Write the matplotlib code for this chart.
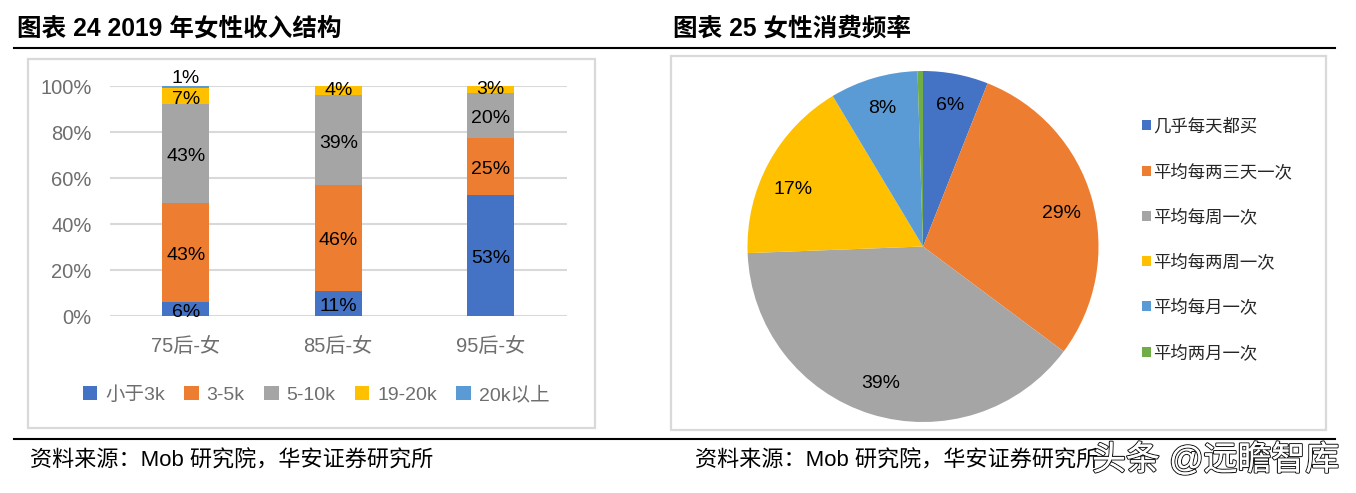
import matplotlib
matplotlib.use('Agg')
import matplotlib.pyplot as plt
import matplotlib.patheffects as pe
from matplotlib.patches import Rectangle
import numpy as np

W, H = 1356, 493
LATIN_CJK = ['Liberation Sans', 'Noto Sans CJK SC']

# income structure, one list per band
cohorts = ['75后-女', '85后-女', '95后-女']
income_bands = ['小于3k', '3-5k', '5-10k', '19-20k', '20k以上']
under_3k = [6, 11, 53]
from_3_to_5k = [43, 46, 25]
from_5_to_10k = [43, 39, 20]
from_19_to_20k = [7, 4, 3]
over_20k = [1, 0, 0]
band_colors = ['#4472C4', '#ED7D31', '#A5A5A5', '#FFC000', '#5B9BD5']
y_ticks = [0, 20, 40, 60, 80, 100]

# shopping frequency
freq_names = ['几乎每天都买', '平均每两三天一次', '平均每周一次', '平均每两周一次', '平均每月一次', '平均两月一次']
freq_values = [6.0, 29.2, 39.2, 17.0, 8.1, 0.5]
freq_labels = ['6%', '29%', '39%', '17%', '8%', '']
freq_colors = ['#4472C4', '#ED7D31', '#A5A5A5', '#FFC000', '#5B9BD5', '#70AD47']

plt.rcParams['font.family'] = LATIN_CJK
fig = plt.figure(figsize=(W / 100, H / 100), dpi=100)


def px_axes(x0, y0, x1, y1):
    # axes from pixel box, y counted from the top
    a = fig.add_axes([x0 / W, 1 - y1 / H, (x1 - x0) / W, (y1 - y0) / H])
    a.set_zorder(3)
    a.patch.set_visible(False)
    return a


def fig_text(x, y, s, **kw):
    return fig.text(x / W, 1 - y / H, s, va='center', **kw)


# chart frames
for x0, y0, x1, y1 in [(28, 59, 595, 428), (671, 56, 1326, 430)]:
    fig.add_artist(Rectangle((x0 / W, 1 - y1 / H), (x1 - x0) / W, (y1 - y0) / H,
                             transform=fig.transFigure, fc='white', ec='#D9D9D9', lw=1.6))

# heading and footer rules
for y in [48, 438.5]:
    fig.add_artist(plt.Line2D([14 / W, 1335 / W], [1 - y / H] * 2, color='black', lw=1.5))

fig_text(17, 29, '图表 24 2019 年女性收入结构', fontsize=17.7, fontweight='bold')
fig_text(673, 29, '图表 25 女性消费频率', fontsize=17.7, fontweight='bold')
fig_text(30, 461, '资料来源：Mob 研究院，华安证券研究所', fontsize=15.9)
fig_text(695, 461, '资料来源：Mob 研究院，华安证券研究所', fontsize=15.9)

# stacked bars
ax = px_axes(109.5, 86, 567, 316)
x = np.arange(len(cohorts))
series = np.array([under_3k, from_3_to_5k, from_5_to_10k, from_19_to_20k, over_20k], dtype=float)
shares = series / series.sum(axis=0) * 100
bottom = np.zeros(len(cohorts))
for i, band in enumerate(income_bands):
    ax.bar(x, shares[i], 0.31, bottom=bottom, color=band_colors[i], label=band, zorder=3)
    for j in range(len(cohorts)):
        if series[i, j] > 0:
            # the 1% label sits above the bar, thin segments stay near their middle
            offset = 9 if series[i, j] == 1 else (0 if series[i, j] < 5 else -3)
            ax.annotate('%d%%' % series[i, j], (x[j], bottom[j] + shares[i, j] / 2),
                        xytext=(0, offset), textcoords='offset pixels', ha='center', va='center',
                        fontsize=14, color='black', zorder=4, annotation_clip=False)
    bottom += shares[i]

ax.set_xlim(-0.5, 2.5)
ax.set_ylim(0, 100)
ax.set_yticks(y_ticks, ['%d%%' % t for t in y_ticks])
ax.set_xticks(x, cohorts)
ax.yaxis.grid(True, color='#D9D9D9', lw=1.5, zorder=0)
ax.set_axisbelow(True)
for side in ax.spines:
    ax.spines[side].set_visible(False)
ax.tick_params(axis='both', length=0, labelcolor='#6E6E6E', labelsize=14.5)
ax.tick_params(axis='y', pad=13)
ax.tick_params(axis='x', pad=15)

handles, labels = ax.get_legend_handles_labels()
leg = fig.legend(handles, labels, loc='center', bbox_to_anchor=(316 / W, 1 - 395 / H), ncol=5,
                 frameon=False, handlelength=0.75, handleheight=0.75, handletextpad=0.4,
                 columnspacing=1.0, prop={'family': LATIN_CJK, 'size': 14})
leg.set_zorder(4)
for t in leg.get_texts():
    t.set_color('#6E6E6E')

# pie
ax2 = px_axes(747.5, 71, 1098.5, 422)
wedges, texts = ax2.pie(freq_values, labels=freq_labels, colors=freq_colors, startangle=90,
                        counterclock=False, labeldistance=0.82,
                        textprops={'fontsize': 14, 'color': 'black'})
for t in texts:
    t.set_ha('center')
    t.set_va('center')
# 29% and 17% sit a little lower in the original
texts[1].set_y(texts[1].get_position()[1] - 0.034)
texts[3].set_position((texts[3].get_position()[0] - 0.017, texts[3].get_position()[1] - 0.063))
ax2.set_xlim(-1, 1)
ax2.set_ylim(-1, 1)

leg2 = fig.legend(wedges, freq_names, loc='upper left', bbox_to_anchor=(1142 / W, 1 - 117.5 / H),
                  frameon=False, ncol=1, handlelength=0.5, handleheight=0.5, handletextpad=0.15,
                  labelspacing=1.57, borderpad=0, borderaxespad=0,
                  prop={'family': ['Noto Sans CJK SC'], 'size': 12.5})
leg2.set_zorder(4)
for t in leg2.get_texts():
    t.set_color('#262626')

# watermark over the right source line, white letters with a dark edge
fig_text(1092, 460, '头条 @远瞻智库', fontsize=24.4, color='white', zorder=10,
         path_effects=[pe.withStroke(linewidth=1.6, foreground='#1A1A1A'), pe.Normal()])

fig.savefig('out.png', dpi=100)
